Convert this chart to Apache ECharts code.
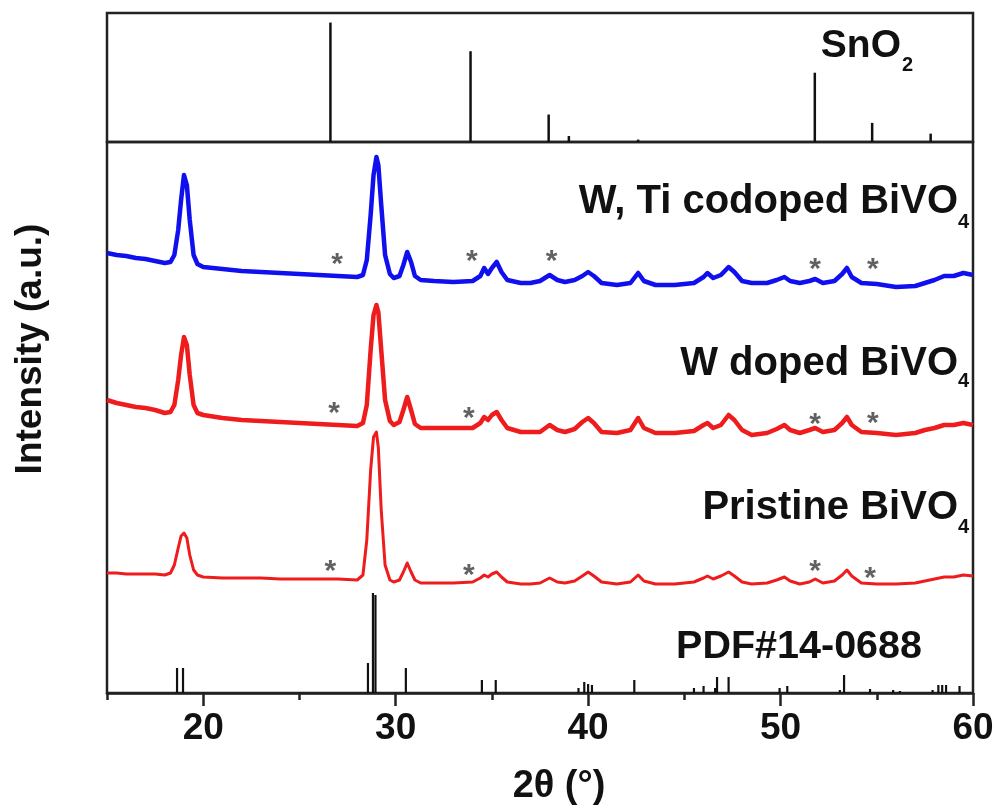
<!DOCTYPE html>
<html>
<head>
<meta charset="utf-8">
<script src="https://cdn.jsdelivr.net/npm/echarts@6/dist/echarts.min.js"></script>
<style>html,body{margin:0;padding:0;background:#fff}#c{width:1000px;height:809px}</style>
</head>
<body>
<div id="c"></div>
<script>
// 2θ grid shared by the three measured patterns
const twoTheta = [15,15.5,16,16.5,17,17.5,18,18.3,18.5,18.7,18.85,19,19.15,19.3,19.5,19.7,20,21,22,23,24,25,26,27,28,28.3,28.5,28.7,28.85,29,29.1,29.25,29.45,29.7,29.9,30.2,30.4,30.6,30.8,31,31.3,32,33,34,34.4,34.6,34.8,35,35.25,35.5,35.8,36.5,37,37.5,38,38.4,38.8,39.3,39.7,40,40.3,40.7,41.5,42.2,42.6,42.9,43.5,44.5,45.5,46,46.2,46.5,46.9,47.3,47.6,48,48.5,49.3,49.8,50.2,50.5,51,51.5,51.8,52.2,52.8,53.2,53.45,53.7,54.2,55,56,57,57.5,58,58.5,59,59.5,60];
// stacked intensities (a.u.)
const wtiCodoped = [440,438,437,435,434,432,430,431,438,463,493,518,508,473,438,429,426,424,422,421,420,419,418,417,416,418,433,478,518,536,528,488,438,419,415,417,428,441,431,417,413,412,411,412,417,425,419,425,431,421,413,410,410,412,418,413,411,413,417,421,417,410,408,410,420,412,408,408,410,416,420,415,418,426,421,412,410,410,413,416,412,410,412,414,410,412,419,425,416,410,409,406,407,410,413,417,417,420,418];
const wDoped = [293,290,288,286,285,283,280,281,288,313,338,356,348,318,288,280,278,275,273,272,271,270,269,268,267,270,288,343,378,388,381,343,293,272,268,271,283,296,283,269,265,265,265,265,270,276,273,278,281,273,265,261,261,261,268,263,261,264,271,275,270,261,260,263,275,265,260,260,262,268,270,265,268,278,273,263,258,260,264,268,263,260,263,265,261,263,270,276,268,261,260,258,260,263,265,268,268,270,268];
const pristine = [120,120,119,119,119,119,118,120,128,145,157,160,155,138,123,118,116,115,115,115,114,114,114,114,113,118,153,223,256,261,245,183,128,113,111,113,121,130,121,113,110,110,110,111,115,118,116,119,121,116,111,109,109,110,115,111,110,112,117,121,117,111,109,111,118,112,109,109,111,115,117,114,117,121,117,111,109,110,113,116,112,109,111,114,110,112,118,123,117,110,109,109,110,112,114,116,116,118,117];
// reference patterns
const sno2Pos = [26.61,33.89,37.95,39.0,42.6,51.78,54.76,57.8];
const sno2Int = [100,76,23,5,2,58,16,7];
const pdfPos = [18.64,18.95,28.56,28.82,28.95,30.53,34.48,35.2,39.5,39.8,40.0,40.2,42.4,45.5,46.0,46.6,46.7,47.3,49.95,50.35,53.08,53.3,54.65,55.85,56.2,57.9,58.2,58.4,58.6,59.3];
const pdfInt = [25,25,30,100,98,25,13,13,5,11,9,8,13,5,7,5,16,16,5,7,3,18,4,3,2,3,8,8,8,7];
// asterisk marks (impurity peaks)
const starWtiX = [26.95,33.96,38.1,51.8,54.8];
const starWtiY = [435,438,438,430,430];
const starWX = [26.8,33.8,51.8,54.8];
const starWY = [286,281,275,276];
const starPX = [26.6,33.8,51.8,54.65];
const starPY = [128,124,128,121];
const majorTicks = [20,30,40,50,60];
const labels = {
  wti: 'W, Ti codoped BiVO', wdoped: 'W doped BiVO', pristine: 'Pristine BiVO',
  pdf: 'PDF#14-0688', sno2: 'SnO', xName: '2θ (°)', yName: 'Intensity (a.u.)'
};

const FONT = '"Liberation Sans", Arial, sans-serif';
const zip = (xs, ys) => xs.map((x, i) => [x, ys[i]]);
const stickSeries = (xi, yi, data, w) => ({
  type: 'custom', xAxisIndex: xi, yAxisIndex: yi, data: data, encode: {x: 0, y: 1},
  renderItem: (params, api) => {
    const p0 = api.coord([api.value(0), 0]);
    const p1 = api.coord([api.value(0), api.value(1)]);
    return {type: 'line', shape: {x1: p0[0], y1: p0[1], x2: p1[0], y2: p1[1]},
      style: {stroke: '#111', lineWidth: w}};
  }, silent: true
});
const starSeries = (xs, ys) => ({
  type: 'scatter', xAxisIndex: 1, yAxisIndex: 1, data: zip(xs, ys), symbolSize: 1,
  itemStyle: {color: 'rgba(0,0,0,0)'}, silent: true,
  label: {show: true, position: 'inside', formatter: '*', fontSize: 30, fontWeight: 'bold', color: '#3a3a3a',
    fontFamily: FONT, offset: [0, 7]}
});
const lineSeries = (ys, color, w) => ({
  type: 'line', xAxisIndex: 1, yAxisIndex: 1, data: zip(twoTheta, ys), showSymbol: false,
  lineStyle: {color: color, width: w, join: 'round'}, silent: true, z: 3
});
const txt = (text, x, y, size, align) => ({
  type: 'text', x: x, y: y, style: {text: text, font: 'bold ' + size + 'px ' + FONT,
  fill: '#111', textAlign: align, textVerticalAlign: 'middle'}
});

const chart = echarts.init(document.getElementById('c'), null, {renderer: 'canvas'});
chart.setOption({
  animation: false,
  backgroundColor: '#fff',
  grid: [
    {left: 107, width: 866, top: 13, height: 129, show: true, borderColor: '#222', borderWidth: 2.5, backgroundColor: 'transparent'},
    {left: 107, width: 866, top: 142, height: 551, show: true, borderColor: '#222', borderWidth: 2.5, backgroundColor: 'transparent'}
  ],
  xAxis: [
    {gridIndex: 0, type: 'value', min: 15, max: 60, show: true, axisLine: {show: false}, axisTick: {show: false}, axisLabel: {show: false}, splitLine: {show: false}},
    {gridIndex: 1, type: 'value', min: 15, max: 60, interval: 5, position: 'bottom',
      axisLine: {show: true, lineStyle: {color: '#222', width: 2.5}},
      axisTick: {show: true, length: 7, lineStyle: {color: '#222', width: 2.5}},
      axisLabel: {show: false}, splitLine: {show: false}},
    {gridIndex: 1, type: 'value', min: 15, max: 60, interval: 5, position: 'bottom',
      axisLine: {show: false},
      axisTick: {show: true, length: 13, customValues: majorTicks, lineStyle: {color: '#222', width: 2.5}},
      axisLabel: {show: true, customValues: majorTicks, formatter: v => (v % 10 === 0 ? String(v) : ''),
        fontSize: 37, fontWeight: 'bold', color: '#111', fontFamily: FONT, margin: 17},
      splitLine: {show: false}}
  ],
  yAxis: [
    {gridIndex: 0, type: 'value', min: 0, max: 108, show: false},
    {gridIndex: 1, type: 'value', min: 0, max: 551, show: false}
  ],
  series: [
    stickSeries(0, 0, zip(sno2Pos, sno2Int), 2.5),
    stickSeries(1, 1, zip(pdfPos, pdfInt), 2.2),
    lineSeries(wtiCodoped, '#1010ee', 4.5),
    lineSeries(wDoped, '#ee1c1c', 4.5),
    lineSeries(pristine, '#ee1c1c', 3),
    starSeries(starWtiX, starWtiY),
    starSeries(starWX, starWY),
    starSeries(starPX, starPY)
  ],
  graphic: [
    txt(labels.sno2, 901, 46, 39, 'right'), txt('2', 902, 65, 20, 'left'),
    txt(labels.wti, 958, 202, 40, 'right'), txt('4', 958, 222, 20, 'left'),
    txt(labels.wdoped, 958, 364, 40, 'right'), txt('4', 958, 381, 20, 'left'),
    txt(labels.pristine, 958, 508, 40, 'right'), txt('4', 958, 527, 20, 'left'),
    txt(labels.pdf, 922, 647, 39.5, 'right'),
    txt(labels.xName, 559, 787, 38, 'center'),
    {type: 'text', x: 31, y: 349, rotation: Math.PI / 2,
      style: {text: labels.yName, font: 'bold 37px ' + FONT, fill: '#111', textAlign: 'center', textVerticalAlign: 'middle'}}
  ]
});
</script>
</body>
</html>
